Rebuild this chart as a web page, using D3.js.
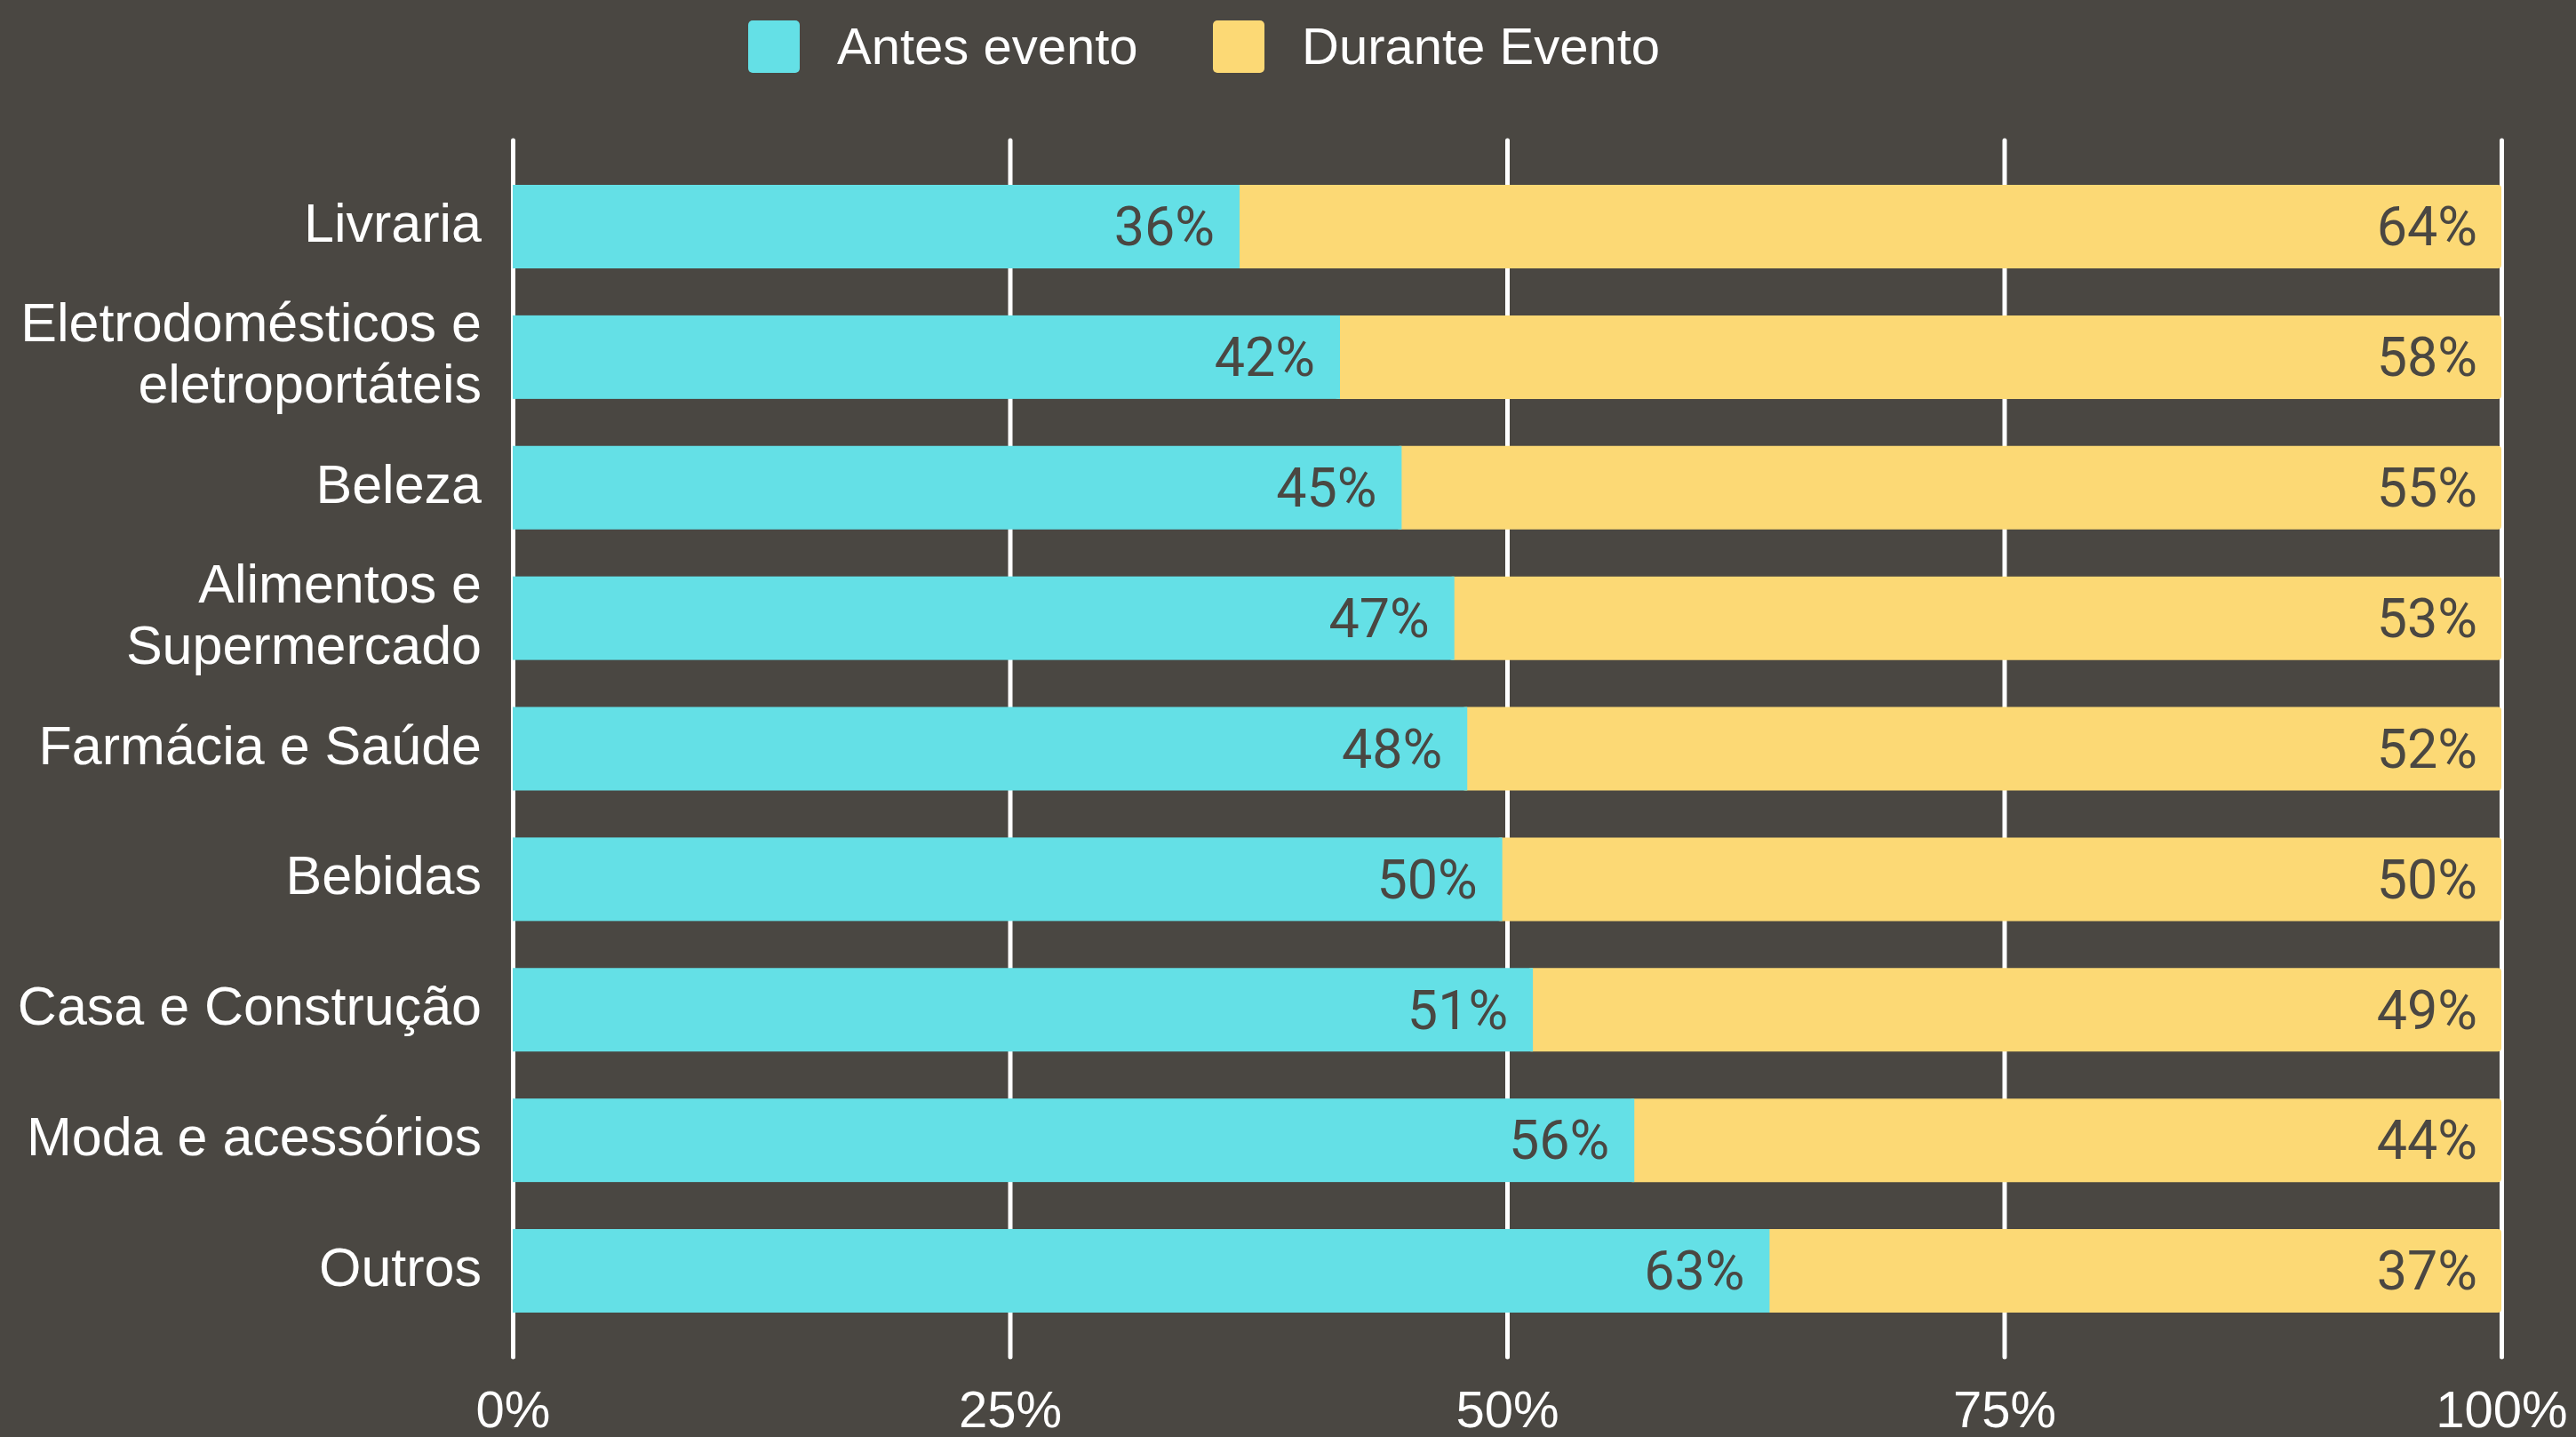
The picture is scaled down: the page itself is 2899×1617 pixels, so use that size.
<!DOCTYPE html>
<html>
<head>
<meta charset="utf-8">
<script src="https://cdn.jsdelivr.net/npm/d3@7"></script>
<style>
  html, body { margin: 0; padding: 0; background: #4a4742; }
  svg { display: block; font-family: "Liberation Sans", Arial, sans-serif; }
  .valeur { font-family: Roboto, "Noto Sans", sans-serif; }
</style>
</head>
<body>
<svg width="2899" height="1617"></svg>
<script>
// Données
let categories = [
    "Livraria",
    "Eletrodomésticos e\neletroportáteis",
    "Beleza",
    "Alimentos e\nSupermercado",
    "Farmácia e Saúde",
    "Bebidas",
    "Casa e Construção",
    "Moda e acessórios",
    "Outros"
];

let antes = [36.55, 41.6, 44.7, 47.35, 48.0, 49.76, 51.3, 56.4, 63.2];
let durante = [63.45, 58.4, 55.3, 52.65, 52.0, 50.24, 48.7, 43.6, 36.8];

// étiquettes affichées
let antesLabels = [36, 42, 45, 47, 48, 50, 51, 56, 63];
let duranteLabels = [64, 58, 55, 53, 52, 50, 49, 44, 37];

let ticks = [0, 25, 50, 75, 100];
let series = ["Antes evento", "Durante Evento"];

let cyan = "#64e0e6";
let jaune = "#fcd975";
let fond = "#4a4742";

let svg = d3.select("svg");

svg.append("rect")
    .attr("width", 2899)
    .attr("height", 1617)
    .attr("fill", fond);

let x = d3.scaleLinear().domain([0, 100]).range([577, 2815]);
let y = d3.scaleBand().domain(categories).range([208, 1477]).paddingInner(0.36).paddingOuter(0);

// Grille + axe du bas
let axe = svg.append("g")
    .attr("transform", "translate(0,1527)")
    .call(d3.axisBottom(x)
        .tickValues(ticks)
        .tickFormat(d => d + "%")
        .tickSizeInner(-(1527 - 158))
        .tickSizeOuter(0)
        .tickPadding(38));

axe.select(".domain").remove();
axe.selectAll(".tick line")
    .attr("stroke", "white")
    .attr("stroke-width", 5)
    .attr("stroke-linecap", "round");
axe.selectAll(".tick text")
    .attr("fill", "white")
    .style("font-family", "'Liberation Sans', Arial, sans-serif")
    .style("font-size", "58px");

// Barres
let lignes = categories.map((c, i) => ({
    cat: c,
    antes: antes[i],
    durante: durante[i],
    la: antesLabels[i],
    ld: duranteLabels[i]
}));

let groupes = svg.append("g").selectAll("g").data(lignes).enter().append("g");

// barre "durante" (coin arrondi à droite, le début est recouvert)
groupes.append("rect")
    .attr("x", d => x(d.antes) - 6)
    .attr("y", d => y(d.cat))
    .attr("width", d => x(100) - x(100 - d.durante) + 6)
    .attr("height", y.bandwidth())
    .attr("rx", 4)
    .attr("fill", jaune);

groupes.append("rect")
    .attr("x", x(0))
    .attr("y", d => y(d.cat))
    .attr("width", d => x(d.antes) - x(0))
    .attr("height", y.bandwidth())
    .attr("fill", cyan);

groupes.append("text")
    .attr("class", "valeur")
    .attr("x", d => x(d.antes) - 28)
    .attr("y", d => y(d.cat) + y.bandwidth() / 2)
    .attr("dy", "0.35em")
    .attr("text-anchor", "end")
    .attr("fill", fond)
    .style("font-size", "61px")
    .text(d => d.la + "%");

groupes.append("text")
    .attr("class", "valeur")
    .attr("x", x(100) - 27)
    .attr("y", d => y(d.cat) + y.bandwidth() / 2)
    .attr("dy", "0.35em")
    .attr("text-anchor", "end")
    .attr("fill", fond)
    .style("font-size", "61px")
    .text(d => d.ld + "%");

// Noms des catégories
let noms = svg.append("g").selectAll("text").data(categories).enter()
    .append("text")
    .attr("text-anchor", "end")
    .attr("fill", "white")
    .style("font-size", "61px")
    .attr("y", d => y(d) + y.bandwidth() / 2 + 17);

noms.each(function (d) {
    let parts = d.split("\n");
    let t = d3.select(this);
    parts.forEach((p, j) => {
        t.append("tspan")
            .attr("x", 542)
            .attr("dy", j == 0 ? -(parts.length - 1) * 34.5 : 69)
            .text(p);
    });
});

// Légende
let legende = svg.append("g");
let posLeg = [842, 1365];

series.forEach((s, i) => {
    legende.append("rect")
        .attr("x", posLeg[i])
        .attr("y", 23)
        .attr("width", 58)
        .attr("height", 59)
        .attr("rx", 5)
        .attr("fill", i == 0 ? cyan : jaune);
    legende.append("text")
        .attr("x", posLeg[i] + 100)
        .attr("y", 72)
        .attr("fill", "white")
        .style("font-size", "58px")
        .text(s);
});
</script>
</body>
</html>
